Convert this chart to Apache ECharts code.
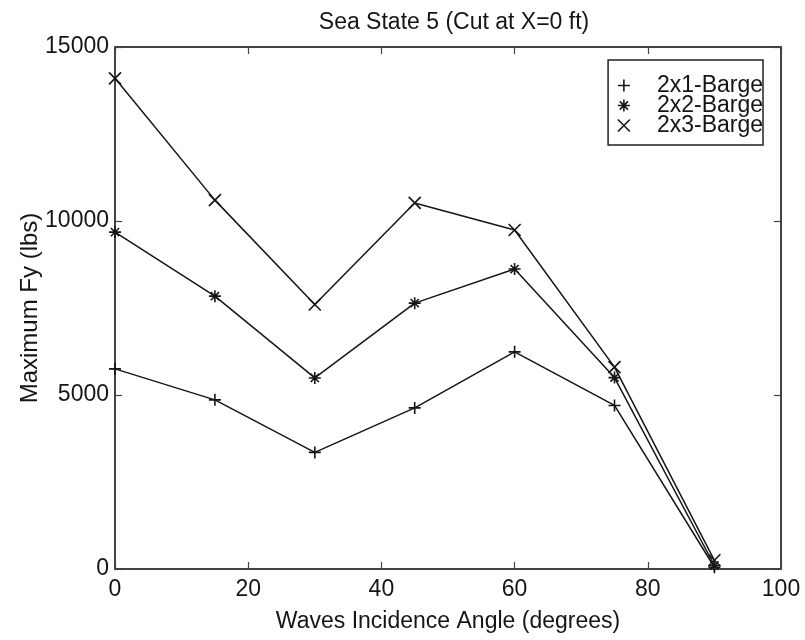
<!DOCTYPE html>
<html>
<head>
<meta charset="utf-8">
<script src="https://cdn.jsdelivr.net/npm/echarts@6/dist/echarts.min.js"></script>
<style>
  html, body { margin: 0; padding: 0; background: #fff; }
  #chart { width: 805px; height: 640px; }
</style>
</head>
<body>
<div id="chart"></div>
<script>
// Incidence angles (degrees)
const angles = [0, 15, 30, 45, 60, 75, 90];

// Maximum Fy (lbs) per barge configuration
const barge2x1 = [5750, 4860, 3350, 4630, 6240, 4700, 50];
const barge2x2 = [9680, 7840, 5490, 7640, 8620, 5500, 100];
const barge2x3 = [14100, 10600, 7600, 10520, 9740, 5800, 250];

const seriesNames = ['2x1-Barge', '2x2-Barge', '2x3-Barge'];
const xTicks = [0, 20, 40, 60, 80, 100];
const yTicks = [0, 5000, 10000, 15000];

// Stroked marker shapes: plus, asterisk, cross
const plusPath = 'path://M5,0L5,10M0,5L10,5';
const starPath = 'path://M5,0L5,10M0,5L10,5M1.6,1.6L8.4,8.4M8.4,1.6L1.6,8.4';
const crossPath = 'path://M0,0L10,10M10,0L0,10';
const markers = [plusPath, starPath, crossPath];
const seriesData = [barge2x1, barge2x2, barge2x3];

const font = 'Liberation Sans, Arial, Helvetica, sans-serif';
const ink = '#151515';

const chart = echarts.init(document.getElementById('chart'), null, { renderer: 'canvas' });

function frameAxis(extra) {
  return Object.assign({
    axisLine: { show: true, onZero: false, lineStyle: { color: '#444', width: 2 } },
    axisTick: { show: true, inside: true, length: 7, lineStyle: { color: '#444', width: 1.2 } },
    splitLine: { show: false }
  }, extra);
}

const series = seriesData.map((vals, i) => ({
  name: seriesNames[i],
  type: 'line',
  xAxisIndex: 0,
  yAxisIndex: 0,
  data: angles.map((a, j) => [a, vals[j]]),
  symbol: markers[i],
  symbolSize: 12,
  showSymbol: true,
  lineStyle: { color: ink, width: 1.5 },
  itemStyle: { color: 'rgba(0,0,0,0)', borderColor: ink, borderWidth: 1.6 },
  emphasis: { disabled: true },
  z: 3 + i
}));

chart.setOption({
  backgroundColor: '#fff',
  animation: false,
  title: {
    text: 'Sea State 5 (Cut at X=0 ft)',
    left: 449,
    textAlign: 'center',
    top: 6,
    textStyle: { fontFamily: font, fontSize: 23, fontWeight: 'normal', color: ink }
  },
  legend: {
    data: seriesNames.map((n, i) => ({ name: n, icon: markers[i] })),
    orient: 'vertical',
    right: 42,
    top: 60,
    itemWidth: 12,
    itemHeight: 12,
    itemGap: -3,
    padding: [14, 0, 8, 9],
    borderColor: '#222',
    borderWidth: 1.5,
    borderRadius: 0,
    backgroundColor: '#fff',
    itemStyle: { color: 'rgba(0,0,0,0)', borderColor: ink, borderWidth: 1.6 },
    lineStyle: { width: 0 },
    textStyle: { fontFamily: font, fontSize: 23, lineHeight: 20, color: ink, padding: [0, 0, 0, 22] },
    selectedMode: false
  },
  grid: { left: 115, right: 24, top: 47, bottom: 71, containLabel: false },
  xAxis: [
    frameAxis({
      type: 'value', min: 0, max: 100, interval: 20,
      name: 'Waves Incidence Angle (degrees)',
      nameLocation: 'middle', nameGap: 41, nameMoveOverlap: false,
      nameTextStyle: { fontFamily: font, fontSize: 23, color: ink },
      axisLabel: {
        fontFamily: font, fontSize: 23, color: ink, margin: 9,
        formatter: v => (xTicks.indexOf(v) >= 0 ? String(v) : '')
      }
    }),
    frameAxis({
      type: 'value', min: 0, max: 100, interval: 20, position: 'top',
      axisLabel: { show: false }
    })
  ],
  yAxis: [
    frameAxis({
      type: 'value', min: 0, max: 15000, interval: 5000,
      name: 'Maximum Fy (lbs)',
      nameLocation: 'middle', nameGap: 73, nameMoveOverlap: false,
      nameTextStyle: { fontFamily: font, fontSize: 24, color: ink },
      axisLabel: {
        fontFamily: font, fontSize: 23, color: ink, margin: 6,
        formatter: v => (yTicks.indexOf(v) >= 0 ? String(v) : '')
      }
    }),
    frameAxis({
      type: 'value', min: 0, max: 15000, interval: 5000, position: 'right',
      axisLabel: { show: false }
    })
  ],
  series: series
});
</script>
</body>
</html>
